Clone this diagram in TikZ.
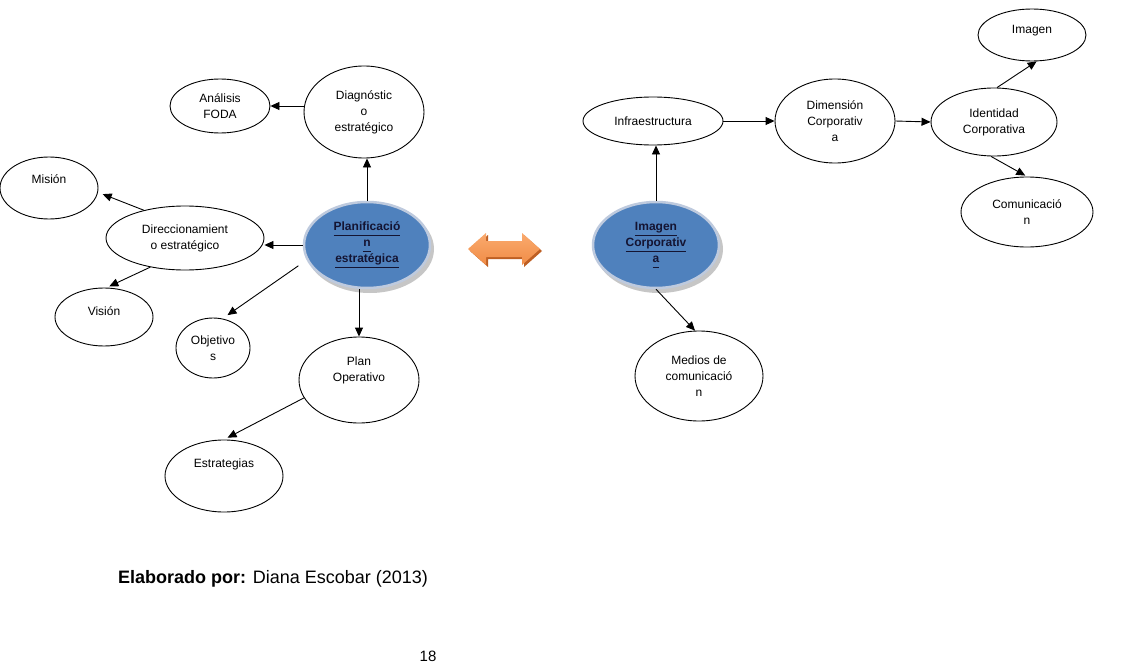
\documentclass[tikz,border=0pt]{standalone}
\usepackage{fontspec}
\setmainfont{Liberation Sans}
\usetikzlibrary{arrows.meta,shapes.geometric,calc}
\newcommand\myul[1]{\underline{\vphantom{Ag}\smash{#1}}}
\definecolor{nodeblue}{RGB}{79,129,189}
\definecolor{rimblue}{RGB}{190,202,222}
\definecolor{orlight}{RGB}{250,170,110}
\definecolor{ormid}{RGB}{240,140,70}
\definecolor{ordark}{RGB}{190,95,35}
\definecolor{bluetext}{RGB}{20,20,50}
\tikzset{
  ell/.style={ellipse, draw=black, line width=0.9pt, inner sep=0pt, align=center,
    font=\fontsize{12}{16}\selectfont},
  txt/.style={align=center, inner sep=0pt, font=\fontsize{12}{16}\selectfont},
  blueell/.style={ellipse, fill=nodeblue, draw=rimblue, line width=2.5pt, inner sep=0pt,
    align=center, text=bluetext, font=\fontsize{12}{16}\selectfont\bfseries},
  arr/.style={line width=0.9pt, -{Triangle[length=9pt,width=8pt]}}
}
\begin{document}
\begin{tikzpicture}[x=1pt,y=-1pt]
\path[use as bounding box, fill=white] (0,0) rectangle (1128,669);

% left cluster
\node[ell, minimum width=100, minimum height=54] (foda) at (220,106) {Análisis\\FODA};
\node[ell, minimum width=120, minimum height=92] (diag) at (364,112) {Diagnóstic\\o\\estratégico};
\node[ell, minimum width=98, minimum height=62] (mision) at (49,188) {};
\node[txt] at (49,179) {Misión};
\node[ell, minimum width=158, minimum height=64] (direcc) at (185,238) {Direccionamient\\o estratégico};
\node[ell, minimum width=98, minimum height=58] (vision) at (104,317) {};
\node[txt] at (104,311) {Visión};
\node[ell, minimum width=74, minimum height=60] (obj) at (213,348) {Objetivo\\s};
\node[ell, minimum width=120, minimum height=86] (planop) at (359,380) {};
\node[txt] at (359,370) {Plan\\Operativo};
\node[ell, minimum width=118, minimum height=72] (estr) at (224,476) {};
\node[txt] at (224,464) {Estrategias};

% blue Planificacion
\fill[gray!45] (370,249) ellipse [x radius=64, y radius=44];
\node[blueell, minimum width=126, minimum height=86] (planif) at (367,245)
  {\myul{Planificació}\\\myul{n}\\\myul{estratégica}};

% right cluster
\fill[gray!45] (659,249) ellipse [x radius=64, y radius=44];
\node[blueell, minimum width=126, minimum height=86] (imgcorp) at (656,245)
  {\myul{Imagen}\\\myul{Corporativ}\\\myul{a}};
\node[ell, minimum width=140, minimum height=48] (infra) at (653,121) {Infraestructura};
\node[ell, minimum width=128, minimum height=90] (medios) at (699,376) {Medios de\\comunicació\\n};
\node[ell, minimum width=120, minimum height=84] (dim) at (835,121) {Dimensión\\Corporativ\\a};
\node[ell, minimum width=126, minimum height=68] (ident) at (994,122) {Identidad\\Corporativa};
\node[ell, minimum width=108, minimum height=52] (imagen) at (1032,35) {};
\node[txt] at (1032,31) {Imagen};
\node[ell, minimum width=132, minimum height=70] (comun) at (1027,212) {Comunicació\\n};

% connectors left
\draw[arr] (foda.east -| diag.west) -- (foda.east);
\draw[arr] (planif.north) -- (planif.north |- diag.south);
\draw[arr] (planif.west) -- (planif.west -| direcc.east);
\draw[arr, shorten >=5pt] (direcc.146) -- (mision.-5);
\draw[arr, shorten >=3pt] (direcc.220) -- (vision.85);
\draw[arr, shorten <=10pt, shorten >=6pt] (planif.194) -- (obj.72);
\draw[arr] (planop.north |- planif.south) -- (planop.north);
\draw[arr, shorten >=4pt] (planop.198) -- (estr.north);

% connectors right
\draw[arr] (imgcorp.north) -- (imgcorp.north |- infra.south);
\draw[arr] (imgcorp.south) -- (medios.95);
\draw[arr] (infra.east) -- (dim.west);
\draw[arr] (dim.east) -- (ident.west);
\draw[arr] (ident.85) -- (imagen.-80);
\draw[arr, shorten >=2pt] (ident.265) -- (comun.north);

% double arrow
\coordinate (da) at (505,249);
\fill[ordark] ($(da)+(-35,2)$) -- ($(da)+(-17,-14)$) -- ($(da)+(-17,-6)$) -- ($(da)+(19,-6)$) -- ($(da)+(19,-14)$)
  -- ($(da)+(37,2)$) -- ($(da)+(19,18)$) -- ($(da)+(19,10)$) -- ($(da)+(-17,10)$) -- ($(da)+(-17,18)$) -- cycle;
\shade[top color=orlight, bottom color=ormid] ($(da)+(-37,0)$) -- ($(da)+(-19,-16)$) -- ($(da)+(-19,-8)$) -- ($(da)+(17,-8)$) -- ($(da)+(17,-16)$)
  -- ($(da)+(35,0)$) -- ($(da)+(17,16)$) -- ($(da)+(17,8)$) -- ($(da)+(-19,8)$) -- ($(da)+(-19,16)$) -- cycle;

% footer
\node[anchor=west, inner sep=0pt, font=\fontsize{18}{22}\selectfont] (cap) at (118,579)
  {\textbf{Elaborado por:} Diana Escobar (2013)};
\node[inner sep=0pt, font=\fontsize{15}{18}\selectfont] (pg) at (428,656) {18};
\end{tikzpicture}
\end{document}
